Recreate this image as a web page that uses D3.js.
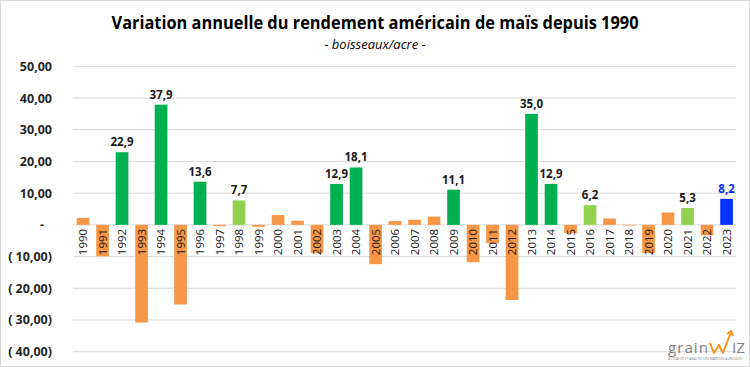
<!DOCTYPE html>
<html><head><meta charset="utf-8">
<script src="https://cdn.jsdelivr.net/npm/d3@7"></script>
<style>body{margin:0;background:#fff;} svg{display:block;font-family:"Open Sans","Liberation Sans",sans-serif;}</style>
</head><body>
<svg id="c" width="750" height="367"></svg>
<script>
const years = ["1990","1991","1992","1993","1994","1995","1996","1997","1998","1999","2000","2001","2002","2003","2004","2005","2006","2007","2008","2009","2010","2011","2012","2013","2014","2015","2016","2017","2018","2019","2020","2021","2022","2023"];
const variation = [2.2,-9.9,22.9,-30.8,37.9,-25.1,13.6,-0.4,7.7,-0.6,3.1,1.3,-8.9,12.9,18.1,-12.4,1.2,1.6,2.6,11.1,-11.8,-5.8,-23.7,35.0,12.9,-2.6,6.2,2.0,-0.2,-8.9,3.9,5.3,-3.3,8.2];
const yTicks = [50,40,30,20,10,0,-10,-20,-30,-40];
const title = "Variation annuelle du rendement américain de maïs depuis 1990";
const subtitle = "- boisseaux/acre -";

const svg = d3.select("#c");
svg.append("rect").attr("x",0.5).attr("y",0.5).attr("width",749).attr("height",366).attr("fill","#fff").attr("stroke","#d9d9d9");

const x = d3.scaleBand().domain(years).range([73.3,736.3]).paddingInner(0.35).paddingOuter(0.175);
const y = d3.scaleLinear().domain([-40,50]).range([351.7,66.3]);

// grid
svg.append("g").selectAll("line").data(yTicks).join("line")
  .attr("x1",73).attr("x2",736).attr("y1",d=>y(d)).attr("y2",d=>y(d))
  .attr("stroke","#d9d9d9").attr("stroke-width",1);

// y axis labels
const fmt = d => {
  if (d===0) return "-";
  const s = Math.abs(d).toFixed(2).replace(".",",");
  return d<0 ? "( "+s+")" : s;
};
const yAxis = d3.axisLeft(y).tickValues(yTicks).tickFormat(fmt).tickSize(0).tickPadding(0);
const ga = svg.append("g").attr("transform","translate(52,0)").call(yAxis);
ga.select(".domain").remove();
ga.selectAll("text").attr("font-size",12.5).attr("font-weight","bold").attr("fill","#262626")
  .attr("font-family","'Open Sans',sans-serif")
  .attr("dx", d=> d===0 ? -8 : 0);

const color = (v,i) => {
  if (i===years.length-1) return "#0433FF";
  if (v>=10) return "#00B050";
  if (v>=5) return "#92D050";
  return "#F79646";
};

// bars
svg.append("g").selectAll("rect").data(variation).join("rect")
  .attr("x",(d,i)=>x(years[i])).attr("width",x.bandwidth())
  .attr("y",d=>y(Math.max(0,d))).attr("height",d=>Math.abs(y(d)-y(0)))
  .attr("fill",(d,i)=>color(d,i));

// x labels (rotated)
svg.append("g").selectAll("text").data(years).join("text")
  .attr("transform",d=>`translate(${x(d)+x.bandwidth()/2+4},${y(0)+4}) rotate(-90)`)
  .attr("text-anchor","end").attr("font-size",11.5).attr("fill","#1a1a1a")
  .text(d=>d);

// value labels
svg.append("g").selectAll("text").data(variation.map((v,i)=>({v,i})).filter(d=>d.v>=5)).join("text")
  .attr("x",d=>x(years[d.i])+x.bandwidth()/2).attr("y",d=>y(d.v)-6)
  .attr("text-anchor","middle").attr("font-size",11.5).attr("font-weight","bold")
  .attr("fill",d=>d.i===years.length-1?"#0433FF":"#1a1a1a")
  .text(d=>d.v.toFixed(1).replace(".",","));

// titles
svg.append("text").attr("x",375).attr("y",28.5).attr("text-anchor","middle")
  .attr("font-size",18.5).attr("font-weight","bold").attr("fill","#000")
  .attr("textLength",527).attr("lengthAdjust","spacingAndGlyphs").text(title);
svg.append("text").attr("x",375).attr("y",49).attr("text-anchor","middle")
  .attr("font-size",13).attr("font-style","italic").attr("fill","#000").text(subtitle);

// logo
const lg = svg.append("g").attr("transform","translate(668,353)");
lg.append("text").attr("x",0).attr("y",0).attr("font-size",15).attr("fill","#808080")
  .attr("letter-spacing",1).attr("textLength",41).attr("lengthAdjust","spacingAndGlyphs").text("grain");
lg.append("path").attr("d","M42,-10 L46,0 L51,-8 L55,0 L63,-21 M59,-19 L63,-22 L65,-17")
  .attr("fill","none").attr("stroke","#F7941D").attr("stroke-width",2).attr("stroke-linejoin","round");
lg.append("text").attr("x",64).attr("y",0).attr("font-size",14).attr("fill","#808080")
  .attr("textLength",13).attr("lengthAdjust","spacingAndGlyphs").text("IZ");
lg.append("text").attr("x",0).attr("y",7).attr("font-size",3.2).attr("fill","#808080")
  .attr("textLength",74).attr("lengthAdjust","spacingAndGlyphs")
  .text("ACTUALITÉ ET ANALYSE DES MARCHÉS AGRICOLES");
</script>
</body></html>
